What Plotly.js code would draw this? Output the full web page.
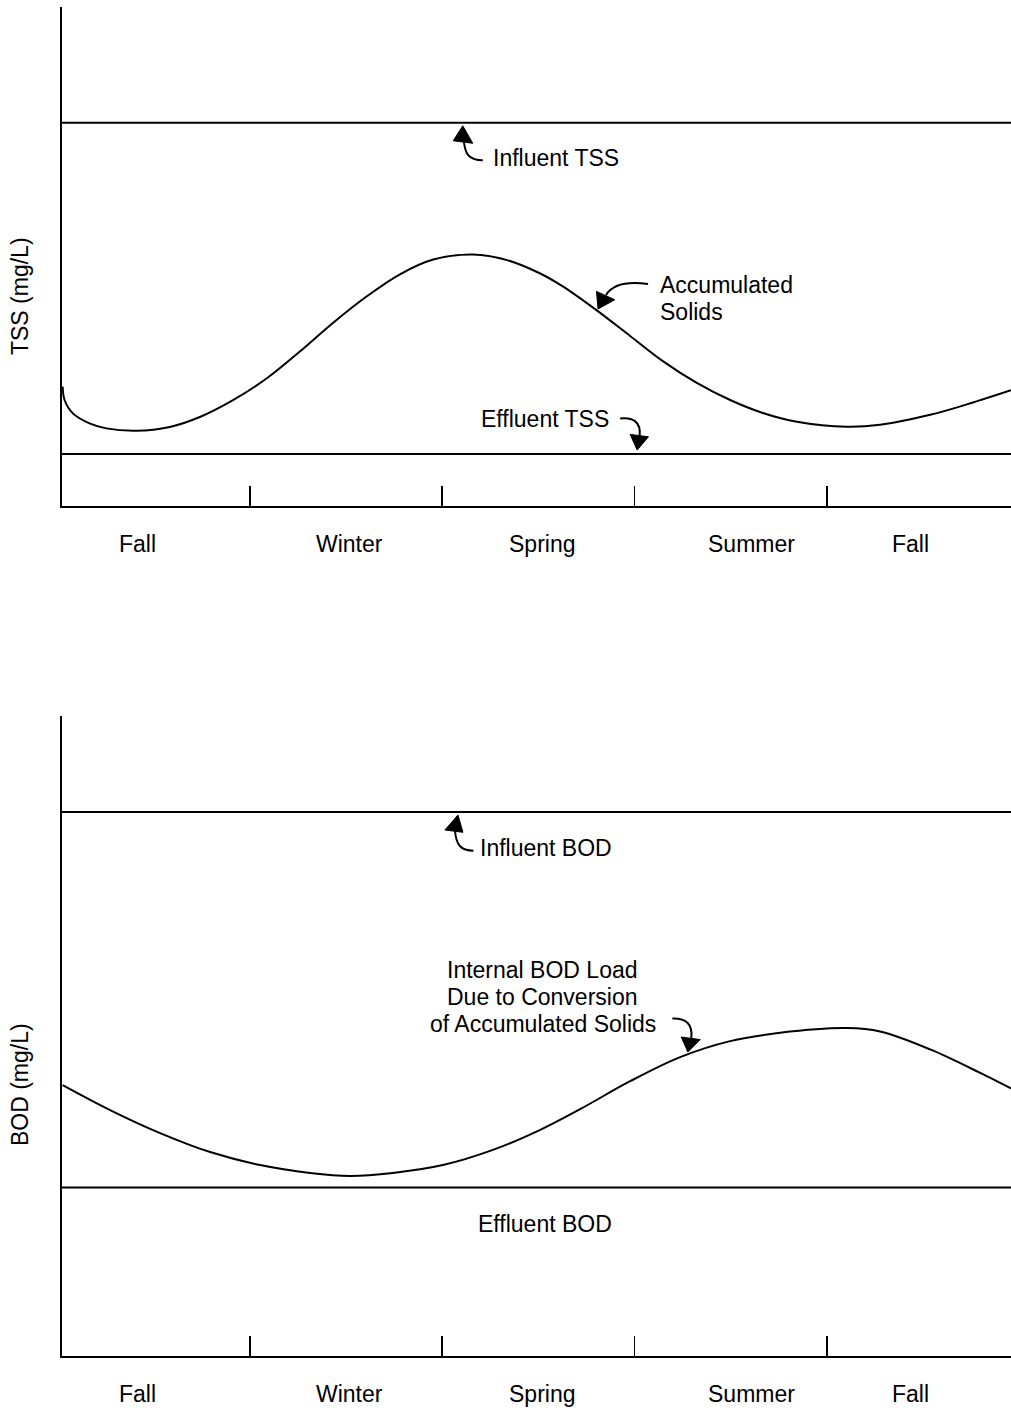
<!DOCTYPE html>
<html>
<head>
<meta charset="utf-8">
<script src="https://cdn.plot.ly/plotly-3.0.1.min.js"></script>
<style>html,body{margin:0;padding:0;background:#fff;}#chart{width:1011px;height:1412px;}</style>
</head>
<body>
<div id="chart"></div>
<script>
// ---- Data (x in months from start of first fall) ----
const seasonLabels = ["Fall", "Winter", "Spring", "Summer", "Fall"];
const seasonLabelX = [1.25, 4.56, 7.56, 10.83, 13.30];
const seasonBoundaries = [3, 6, 9, 12];
const xStart = 0.07, xEnd = 14.87;

const tssMonths = [0.08, 0.11, 0.24, 0.50, 0.76, 1.23, 1.75, 2.22, 2.73, 3.27, 3.78, 4.29, 4.83, 5.34, 5.86, 6.48, 7.01, 7.52, 7.88, 8.41, 8.93, 9.44, 9.97, 10.49, 11.00, 11.53, 12.31, 12.83, 13.61, 14.12, 14.87];
const tssAccumulated = [59.8, 53.1, 46.4, 41.4, 38.9, 37.7, 39.6, 44.6, 52.9, 64.1, 77.4, 91.6, 105.2, 116.1, 123.5, 126.0, 123.2, 116.6, 110.0, 98.0, 85.2, 72.6, 61.7, 53.1, 46.6, 42.2, 39.7, 40.7, 45.7, 50.3, 58.0];
const tssInfluent = 192;
const tssEffluent = 26;

const bodMonths = [0.08, 0.82, 1.60, 2.38, 3.16, 3.94, 4.56, 5.23, 6.01, 6.79, 7.52, 8.15, 8.93, 9.71, 10.49, 11.27, 12.31, 12.83, 13.61, 14.39, 14.87];
const bodInternal = [127.0, 115.3, 104.5, 95.6, 89.5, 85.8, 84.4, 85.8, 89.5, 96.6, 105.9, 115.7, 128.8, 140.1, 147.6, 151.5, 153.7, 152.1, 143.7, 132.7, 125.4];
const bodInfluent = 255;
const bodEffluent = 79;

// ---- Styling ----
const FONT = "Liberation Sans, Arial, Helvetica, sans-serif";
const FS = 23;
const black = "#000";

function line(x, y, xa, ya, extra) {
  return Object.assign({x: x, y: y, xaxis: xa, yaxis: ya, mode: "lines",
    line: {color: black, width: 2}, hoverinfo: "skip", showlegend: false}, extra || {});
}

const traces = [
  line([xStart, xEnd], [tssInfluent, tssInfluent], "x", "y"),
  line([xStart, xEnd], [tssEffluent, tssEffluent], "x", "y"),
  line(tssMonths, tssAccumulated, "x", "y", {line: {color: black, width: 2, shape: "spline", smoothing: 1}}),
  line([xStart, xEnd], [bodInfluent, bodInfluent], "x2", "y2"),
  line([xStart, xEnd], [bodEffluent, bodEffluent], "x2", "y2"),
  line(bodMonths, bodInternal, "x2", "y2", {line: {color: black, width: 2, shape: "spline", smoothing: 1}})
];

function xaxis(anchor) {
  return {range: [xStart, xEnd], anchor: anchor, showline: true, linecolor: black, linewidth: 2,
    showgrid: false, zeroline: false, ticks: "inside", ticklen: 20, tickwidth: 1.5, tickcolor: black,
    tickmode: "array", tickvals: seasonBoundaries, showticklabels: false, fixedrange: true};
}
function yaxis(anchor, range, domain) {
  return {range: range, domain: domain, anchor: anchor, showline: true, linecolor: black, linewidth: 2,
    showgrid: false, zeroline: false, ticks: "", showticklabels: false, fixedrange: true};
}

const annotations = [];
function txt(text, x, y, xref, yref, opts) {
  annotations.push(Object.assign({text: text, x: x, y: y, xref: xref, yref: yref, showarrow: false,
    font: {family: FONT, size: FS, color: black}, xanchor: "center", yanchor: "middle"}, opts || {}));
}
// season labels
seasonLabels.forEach((s, i) => {
  txt(s, seasonLabelX[i], 0, "x", "y", {yshift: -38});
  txt(s, seasonLabelX[i], 0, "x2", "y2", {yshift: -38});
});
// axis titles
txt("TSS (mg/L)", 0, 105.2, "paper", "y", {textangle: -90, xshift: -42});
txt("BOD (mg/L)", 0, 127, "paper", "y2", {textangle: -90, xshift: -42});
// TSS labels
txt("Influent TSS", 7.77, 174.3, "x", "y");
txt("Accumulated", 9.37, 110.8, "x", "y", {xanchor: "left"});
txt("Solids", 9.37, 97.3, "x", "y", {xanchor: "left"});
txt("Effluent TSS", 7.60, 43.6, "x", "y");
// BOD labels
txt("Influent BOD", 7.62, 238.1, "x2", "y2");
txt("Internal BOD Load", 7.57, 180.9, "x2", "y2");
txt("Due to Conversion", 7.57, 168.3, "x2", "y2");
txt("of Accumulated Solids", 7.57, 155.6, "x2", "y2");
txt("Effluent BOD", 7.60, 61.9, "x2", "y2");

// curved arrows: anchored at data points, drawn in pixel offsets (right +, up +)
const shapes = [];
function arrow(xref, yref, ax, ay, tail, head) {
  const base = {type: "path", xref: xref, yref: yref, xsizemode: "pixel", ysizemode: "pixel",
    xanchor: ax, yanchor: ay, layer: "above"};
  shapes.push(Object.assign({}, base, {path: tail, line: {color: black, width: 2}, fillcolor: "rgba(0,0,0,0)"}));
  shapes.push(Object.assign({}, base, {path: head, line: {color: black, width: 1}, fillcolor: black}));
}
// Influent TSS (points up to influent line)
arrow("x", "y", 6.32, tssInfluent, "M 1,-17 C 2,-30 5,-37.5 20,-37.5", "M 0,-3 L -9.5,-18 L 10,-20.5 Z");
// Accumulated solids (points to curve)
arrow("x", "y", 8.43, 98.7, "M 8,14 C 14,24 28,28 50,25", "M 0,0 L -1.6,17.6 L 16.7,9.3 Z");
// Effluent TSS (points down to effluent line)
arrow("x", "y", 9.04, tssEffluent, "M -17,35.5 C -5,37 4,33 2.5,18", "M 0,4 L -7,19.7 L 11.3,17.3 Z");
// Influent BOD
arrow("x2", "y2", 6.245, bodInfluent, "M -3,-18 C -2,-33 3,-38.7 15.5,-38.7", "M 0,-3 L -13,-18 L 5,-20.3 Z");
// Internal BOD load
arrow("x2", "y2", 9.83, 142.5, "M -15.5,33.5 C -2,34 5,28 3.5,14", "M 0,0 L -6.6,15 L 12.4,12.4 Z");

const layout = {
  width: 1011, height: 1412,
  margin: {l: 62, r: 0, t: 0, b: 0, pad: 0},
  paper_bgcolor: "#fff", plot_bgcolor: "#fff",
  showlegend: false,
  xaxis: xaxis("y"),
  yaxis: yaxis("x", [0, 250], [1 - 506 / 1412, 1 - 7 / 1412]),
  xaxis2: xaxis("y2"),
  yaxis2: yaxis("x2", [0, 300], [1 - 1356 / 1412, 1 - 716 / 1412]),
  annotations: annotations,
  shapes: shapes,
  font: {family: FONT, size: FS, color: black}
};

Plotly.newPlot("chart", traces, layout, {staticPlot: true, displayModeBar: false});
</script>
</body>
</html>
